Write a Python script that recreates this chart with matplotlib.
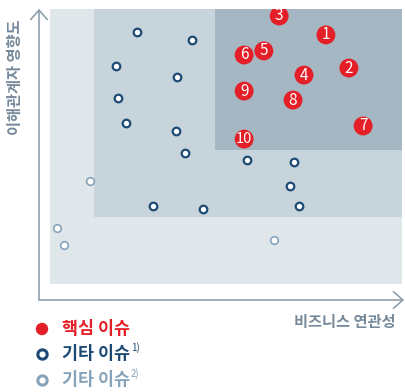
import matplotlib
matplotlib.use("Agg")
import matplotlib.pyplot as plt
from matplotlib.patches import Rectangle, FancyArrowPatch

plt.rcParams['font.family'] = ['Noto Sans CJK KR', 'DejaVu Sans']

# Materiality scores (0-100): x = business relevance, y = stakeholder impact
core_labels = ['1', '2', '3', '4', '5', '6', '7', '8', '9', '10']
core_x = [78.6, 84.9, 65.8, 72.6, 61.6, 56.2, 88.8, 69.6, 56.2, 56.2]
core_y = [91.1, 79.7, 97.6, 77.3, 85.6, 84.2, 59.8, 68.7, 71.8, 55.3]

other1_x = [26.8, 41.9, 21.1, 37.8, 21.6, 23.8, 37.5, 40.0, 57.0, 69.9, 68.8, 31.2, 44.9, 71.2]
other1_y = [92.1, 89.3, 80.4, 76.6, 69.4, 60.8, 58.1, 50.5, 48.1, 47.4, 39.2, 32.3, 31.3, 32.3]

other2_x = [14.0, 4.9, 6.8, 64.4]
other2_y = [40.9, 24.7, 18.9, 20.6]

# Priority zones: (x_start, y_start) to the top-right corner
zone_starts = [(3.0, 5.5), (15.1, 28.5), (48.2, 51.5)]
zone_colors = ['#e0e7eb', '#c7d4dc', '#a4b7c2']
zone_right = 99.5

legend_labels = ['핵심 이슈', '기타 이슈', '기타 이슈']
legend_sups = ['', '1)', '2)']

RED = '#e41f27'
DARK = '#1c4a74'
LIGHT = '#86a3ba'
AXIS = '#8799a5'
LABEL = '#76899a'

W, H = 406, 392
fig = plt.figure(figsize=(W / 100, H / 100), dpi=100)
ax = fig.add_axes([39 / W, (H - 300) / H, 365 / W, 291 / H])
ax.set_xlim(0, 100)
ax.set_ylim(0, 100)
ax.axis('off')

for (x0, y0), c in zip(zone_starts, zone_colors):
    ax.add_patch(Rectangle((x0, y0), zone_right - x0, 100 - y0,
                           facecolor=c, edgecolor='none', zorder=1))

# axes with open arrowheads
for start, end in [((0, 0), (0, 1)), ((0, 0), (1, 0))]:
    ax.add_patch(FancyArrowPatch(start, end, transform=ax.transAxes,
                                 arrowstyle='->,head_length=0.45,head_width=0.4',
                                 mutation_scale=15, color=AXIS, lw=1.1,
                                 clip_on=False, zorder=2, shrinkA=0, shrinkB=0))

ax.scatter(other2_x, other2_y, s=30, facecolor='white', edgecolor=LIGHT,
           linewidths=1.2, zorder=3)
ax.scatter(other1_x, other1_y, s=30, facecolor='white', edgecolor=DARK,
           linewidths=1.6, zorder=3)
ax.scatter(core_x, core_y, s=185, color=RED, edgecolor='none', zorder=4)
for lab, x, y in zip(core_labels, core_x, core_y):
    ax.text(x, y, lab, color='white', fontsize=11 if len(lab) == 1 else 10.5,
            ha='center', va='center', zorder=5, fontweight='normal')

fig.text(15 / W, 1 - 77 / H, '이해관계자 영향도', rotation=90, ha='center',
         va='center', fontsize=11, fontweight='bold', color=LABEL)
fig.text(396 / W, 1 - 322 / H, '비즈니스 연관성', ha='right', va='center',
         fontsize=11, fontweight='bold', color=LABEL)

# legend
leg_y = [329, 354, 380]
leg_colors = [RED, DARK, LIGHT]
lax = fig.add_axes([0, 0, 1, 1], facecolor='none')
lax.set_xlim(0, W)
lax.set_ylim(H, 0)
lax.axis('off')
lax.scatter([42], [leg_y[0]], s=80, color=RED, edgecolor='none')
lax.scatter([42], [leg_y[1]], s=45, facecolor='white', edgecolor=DARK, linewidths=2.2)
lax.scatter([42], [leg_y[2]], s=45, facecolor='white', edgecolor=LIGHT, linewidths=2.2)
texts = []
for lab, y, c in zip(legend_labels, leg_y, leg_colors):
    texts.append(lax.text(62, y, lab, color=c, fontsize=12.5, fontweight='bold',
                          ha='left', va='center'))

# superscript notes placed right after each legend label
fig.canvas.draw()
renderer = fig.canvas.get_renderer()
inv = lax.transData.inverted()
for t, sup, y, c in zip(texts, legend_sups, leg_y, leg_colors):
    if not sup:
        continue
    bb = t.get_window_extent(renderer)
    x_end, _ = inv.transform((bb.x1, bb.y1))
    lax.text(x_end + 1, y - 6, sup, color=c, fontsize=7, ha='left', va='center')

fig.savefig('out.png', dpi=100)
